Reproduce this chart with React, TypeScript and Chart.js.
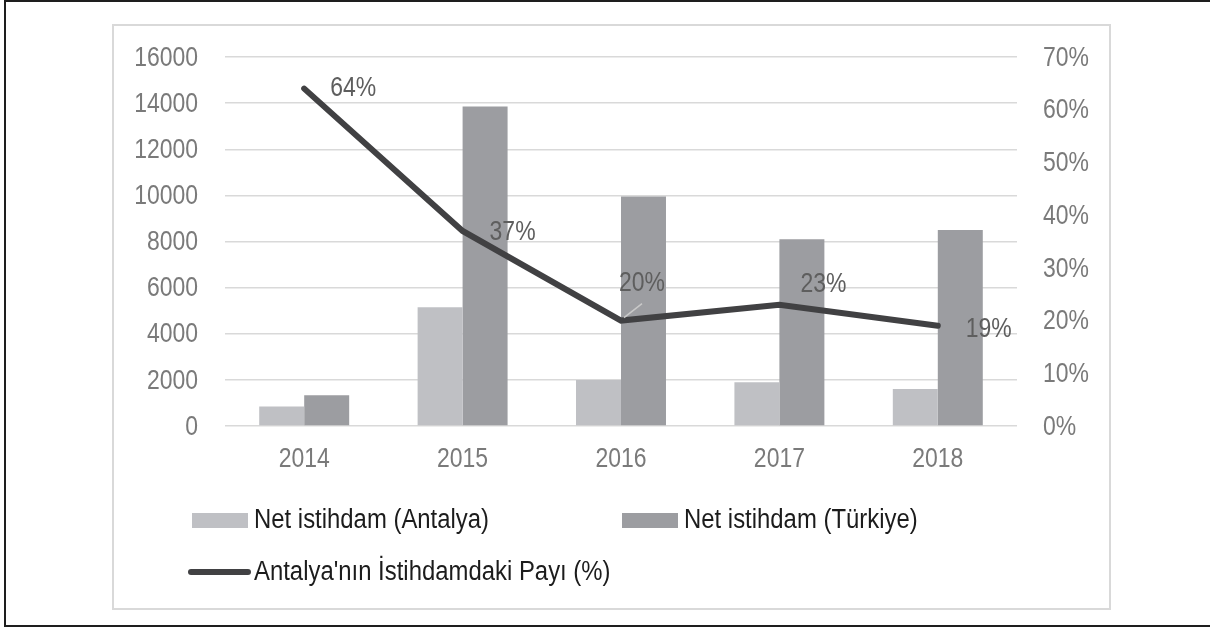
import React, { useEffect, useRef } from "react";
import { Chart, registerables } from "chart.js";

Chart.register(...registerables);

// ---- data ----
const years = ["2014", "2015", "2016", "2017", "2018"];
const antalyaNet = [850, 5150, 2000, 1900, 1600];
const turkiyeNet = [1330, 13850, 9950, 8100, 8500];
const antalyaShare = [0.64, 0.37, 0.2, 0.23, 0.19];
const seriesNames = [
  "Net istihdam (Antalya)",
  "Net istihdam (Türkiye)",
  "Antalya'nın İstihdamdaki Payı (%)",
];

// ---- styles ----
const FONT = "'Liberation Sans', Arial, sans-serif";
const TICK_SIZE = 28;
const TICK_SCALE = 0.82; // horizontal squeeze (condensed look)
const LEGEND_SIZE = 27;
const LEGEND_SCALE = 0.885;
const TICK_COLOR = "#7a7a7a";
const LABEL_COLOR = "#5e5e5e";
const GRID_COLOR = "#d9d9d9";
const COLOR_ANTALYA = "#bfc0c4";
const COLOR_TURKIYE = "#9c9da1";
const COLOR_LINE = "#414143";
const labelOffsets: [number, number][] = [
  [26, 0],
  [27, 1],
  [-2, -37],
  [21, -20],
  [28, 3],
];

function drawText(ctx: CanvasRenderingContext2D, text: string, x: number, y: number, align: CanvasTextAlign, sx: number) {
  ctx.save();
  ctx.translate(x, y);
  ctx.scale(sx, 1);
  ctx.textAlign = align;
  ctx.fillText(text, 0, 0);
  ctx.restore();
}

const framePlugin = {
  id: "frame",
  beforeDraw(chart: any) {
    const ctx = chart.ctx;
    ctx.save();
    ctx.fillStyle = "#ffffff";
    ctx.fillRect(0, 0, chart.width, chart.height);
    ctx.strokeStyle = "#1e1e1e";
    ctx.lineWidth = 2;
    ctx.beginPath();
    ctx.moveTo(1210, 1);
    ctx.lineTo(5, 1);
    ctx.lineTo(5, 626);
    ctx.lineTo(1210, 626);
    ctx.stroke();
    ctx.strokeStyle = "#d9d9d9";
    ctx.lineWidth = 2;
    ctx.strokeRect(113, 25, 997, 584);
    ctx.restore();
  },
};

const axisTextPlugin = {
  id: "axisText",
  afterDraw(chart: any) {
    const ctx = chart.ctx;
    const area = chart.chartArea;
    ctx.save();
    ctx.font = `${TICK_SIZE}px ${FONT}`;
    ctx.fillStyle = TICK_COLOR;
    ctx.textBaseline = "middle";
    const y = chart.scales.y;
    y.ticks.forEach((t: any, i: number) =>
      drawText(ctx, String(t.value), area.left - 27, y.getPixelForTick(i) + 1, "right", TICK_SCALE)
    );
    const y1 = chart.scales.y1;
    y1.ticks.forEach((t: any, i: number) =>
      drawText(ctx, Math.round(t.value * 100) + "%", area.right + 26, y1.getPixelForTick(i) + 1, "left", TICK_SCALE)
    );
    const x = chart.scales.x;
    x.ticks.forEach((t: any, i: number) =>
      drawText(ctx, String(x.getLabelForValue(t.value)), x.getPixelForTick(i), area.bottom + 33, "center", TICK_SCALE)
    );
    ctx.restore();
  },
};

const dataLabelPlugin = {
  id: "lineLabels",
  afterDatasetsDraw(chart: any) {
    const idx = chart.data.datasets.findIndex((d: any) => d.type === "line");
    if (idx < 0) return;
    const meta = chart.getDatasetMeta(idx);
    const ctx = chart.ctx;
    ctx.save();
    ctx.font = `${TICK_SIZE}px ${FONT}`;
    ctx.fillStyle = LABEL_COLOR;
    ctx.textBaseline = "middle";
    meta.data.forEach((pt: any, i: number) => {
      const v = chart.data.datasets[idx].data[i];
      const [dx, dy] = labelOffsets[i] || [26, 0];
      if (dy < -30) {
        ctx.strokeStyle = "#c9c9c9";
        ctx.lineWidth = 1.5;
        ctx.beginPath();
        ctx.moveTo(pt.x + 3, pt.y - 3);
        ctx.lineTo(pt.x + 21, pt.y - 17);
        ctx.stroke();
      }
      drawText(ctx, Math.round(v * 100) + "%", pt.x + dx, pt.y + dy, "left", TICK_SCALE);
    });
    ctx.restore();
  },
};

const legendPlugin = {
  id: "customLegend",
  afterDraw(chart: any) {
    const ctx = chart.ctx;
    const ds = chart.data.datasets;
    const items = [
      { x: 192, y: 520, i: 0 },
      { x: 622, y: 520, i: 1 },
      { x: 188, y: 572, i: 2 },
    ];
    ctx.save();
    ctx.font = `${LEGEND_SIZE}px ${FONT}`;
    ctx.textBaseline = "middle";
    items.forEach((it) => {
      const d = ds[it.i];
      let tx;
      if (d.type === "line") {
        ctx.strokeStyle = d.borderColor;
        ctx.lineWidth = 6;
        ctx.lineCap = "round";
        ctx.beginPath();
        ctx.moveTo(it.x + 3, it.y);
        ctx.lineTo(it.x + 60, it.y);
        ctx.stroke();
        tx = it.x + 66;
      } else {
        ctx.fillStyle = d.backgroundColor;
        ctx.fillRect(it.x, it.y - 7, 56, 15);
        tx = it.x + 62;
      }
      ctx.fillStyle = "#1c1c1c";
      drawText(ctx, d.label, tx, it.y + 1, "left", LEGEND_SCALE);
    });
    ctx.restore();
  },
};

export default function App() {
  const ref = useRef<HTMLCanvasElement | null>(null);

  useEffect(() => {
    if (!ref.current) return;
    const chart = new Chart(ref.current, {
      type: "bar",
      data: {
        labels: years,
        datasets: [
          {
            type: "bar",
            label: seriesNames[0],
            data: antalyaNet,
            backgroundColor: COLOR_ANTALYA,
            yAxisID: "y",
            order: 2,
            categoryPercentage: 0.568,
            barPercentage: 1,
          },
          {
            type: "bar",
            label: seriesNames[1],
            data: turkiyeNet,
            backgroundColor: COLOR_TURKIYE,
            yAxisID: "y",
            order: 2,
            categoryPercentage: 0.568,
            barPercentage: 1,
          },
          {
            type: "line",
            label: seriesNames[2],
            data: antalyaShare,
            borderColor: COLOR_LINE,
            backgroundColor: COLOR_LINE,
            borderWidth: 6,
            borderCapStyle: "round",
            pointRadius: 0,
            tension: 0,
            yAxisID: "y1",
            order: 0,
          },
        ] as any,
      },
      options: {
        responsive: false,
        animation: false,
        events: [],
        layout: { padding: { left: 113, top: 57, right: 0, bottom: 141 } },
        plugins: { legend: { display: false }, tooltip: { enabled: false } },
        scales: {
          x: {
            grid: { display: false },
            border: { display: false },
            ticks: { display: false },
            afterFit: (s: any) => {
              s.height = 60;
            },
          },
          y: {
            position: "left",
            min: 0,
            max: 16000,
            ticks: { stepSize: 2000, display: false },
            grid: { color: GRID_COLOR, lineWidth: 1.5, drawTicks: false },
            border: { display: false },
            afterFit: (s: any) => {
              s.width = 112;
            },
          },
          y1: {
            position: "right",
            min: 0,
            max: 0.7,
            ticks: { stepSize: 0.1, display: false },
            grid: { display: false, drawTicks: false },
            border: { display: false },
            afterFit: (s: any) => {
              s.width = 193;
            },
          },
        },
      } as any,
      plugins: [framePlugin, dataLabelPlugin, axisTextPlugin, legendPlugin],
    });
    return () => chart.destroy();
  }, []);

  return (
    <div style={{ position: "fixed", left: 0, top: 0, width: 1210, height: 627, background: "#fff" }}>
      <canvas ref={ref} width={1210} height={627} />
    </div>
  );
}
